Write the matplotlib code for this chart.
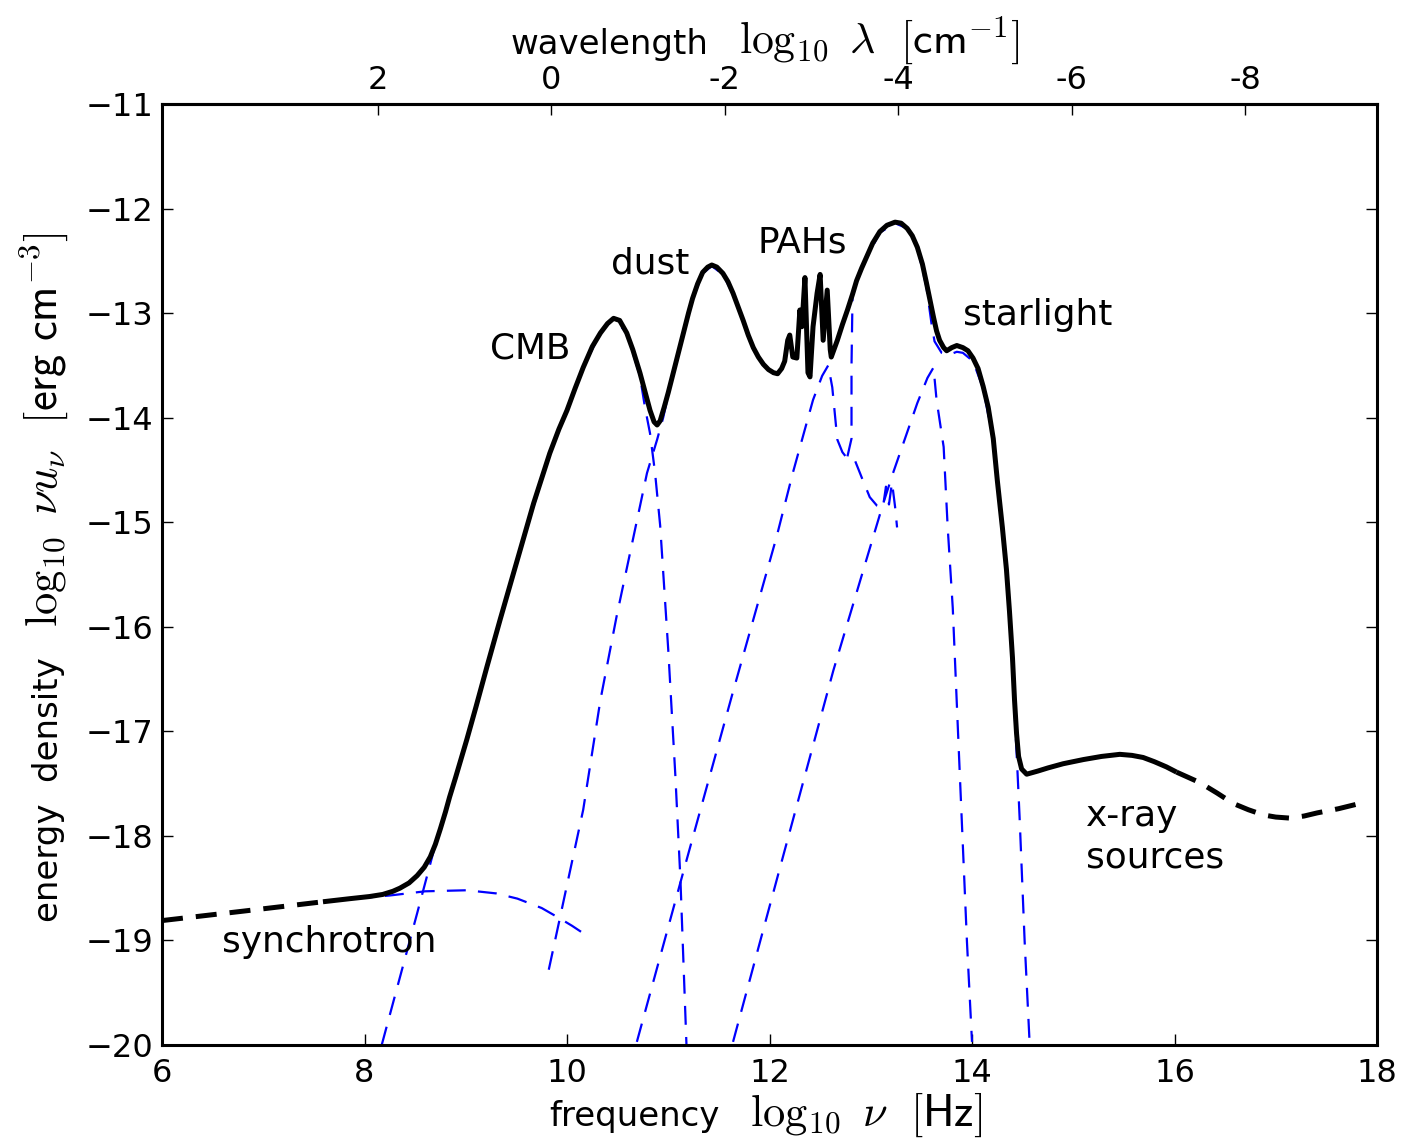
import numpy as np
import matplotlib
matplotlib.use("Agg")
import matplotlib.pyplot as plt

plt.rcParams['mathtext.fontset'] = 'cm'
plt.rcParams['font.family'] = ['DejaVu Sans']

# total energy density (black), log10 nu vs log10 nu*u_nu
tot_x = [6.00, 6.80, 7.59, 7.86, 8.05, 8.18, 8.28, 8.35, 8.44, 8.52, 8.59, 8.65, 8.70,
         8.75, 8.80, 8.84, 8.90, 9.01, 9.10, 9.21, 9.34, 9.51, 9.67, 9.83, 9.92, 10.00,
         10.08, 10.16, 10.25, 10.33, 10.40, 10.46, 10.52, 10.59, 10.65, 10.72, 10.77, 10.82,
         10.86, 10.89, 10.92, 10.96, 11.00, 11.05, 11.10, 11.15, 11.20, 11.24, 11.29, 11.34,
         11.39, 11.43, 11.48, 11.54, 11.59, 11.64, 11.69, 11.74, 11.79, 11.84, 11.89, 11.94,
         11.99, 12.04, 12.08, 12.12, 12.15, 12.18, 12.20, 12.23, 12.27, 12.30, 12.32, 12.35,
         12.38, 12.40, 12.43, 12.47, 12.50, 12.53, 12.57, 12.60, 12.61, 12.67, 12.72, 12.77,
         12.82, 12.86, 12.91, 12.96, 13.02, 13.09, 13.16, 13.24, 13.30, 13.36, 13.41, 13.46,
         13.51, 13.55, 13.59, 13.62, 13.65, 13.68, 13.72, 13.75, 13.80, 13.85, 13.91, 13.96,
         14.01, 14.06, 14.11, 14.16, 14.21, 14.25, 14.30, 14.34, 14.37, 14.40, 14.42, 14.44,
         14.46, 14.49, 14.54, 14.65, 14.75, 14.90, 15.10, 15.28, 15.46, 15.58, 15.69, 15.80,
         15.92, 16.02, 16.25, 16.42, 16.58, 16.73, 16.88, 17.00, 17.14, 17.28, 17.41, 17.62,
         17.83]
tot_y = [-18.81, -18.72, -18.63, -18.60, -18.58, -18.56, -18.53, -18.50, -18.45, -18.38, -18.30, -18.20, -18.08,
         -17.93, -17.77, -17.63, -17.44, -17.08, -16.77, -16.38, -15.93, -15.36, -14.82, -14.34, -14.11, -13.93,
         -13.72, -13.52, -13.32, -13.19, -13.10, -13.05, -13.07, -13.19, -13.35, -13.57, -13.75, -13.93,
         -14.04, -14.07, -14.03, -13.90, -13.76, -13.57, -13.38, -13.19, -13.00, -12.86, -12.72, -12.61,
         -12.56, -12.54, -12.56, -12.62, -12.70, -12.81, -12.94, -13.07, -13.21, -13.33, -13.42, -13.49,
         -13.54, -13.57, -13.58, -13.53, -13.46, -13.26, -13.21, -13.42, -13.43, -12.97, -13.13, -12.66,
         -13.57, -13.61, -13.13, -12.81, -12.63, -13.26, -12.78, -13.35, -13.42, -13.26, -13.11, -12.97,
         -12.82, -12.69, -12.57, -12.46, -12.33, -12.22, -12.16, -12.13, -12.14, -12.19, -12.26, -12.37,
         -12.53, -12.71, -12.90, -13.04, -13.17, -13.26, -13.33, -13.36, -13.33, -13.31, -13.33, -13.36,
         -13.43, -13.53, -13.70, -13.90, -14.20, -14.60, -15.05, -15.45, -15.85, -16.30, -16.70, -17.02,
         -17.24, -17.36, -17.41, -17.38, -17.35, -17.31, -17.27, -17.24, -17.22, -17.23, -17.25, -17.29,
         -17.34, -17.39, -17.49, -17.59, -17.69, -17.75, -17.80, -17.82, -17.83, -17.81, -17.78, -17.74,
         -17.69]
solid_range = (7.59, 16.02)

# individual components (blue dashed)
sync_x = [7.59, 7.90, 8.25, 8.60, 9.01, 9.30, 9.51, 9.75, 9.93, 10.05, 10.19]
sync_y = [-18.63, -18.60, -18.57, -18.53, -18.52, -18.55, -18.60, -18.69, -18.79, -18.86, -18.95]

cmb_x = [8.17, 8.52, 8.72, 8.81, 9.01, 9.21, 9.51, 9.83, 10.16, 10.33, 10.46, 10.59,
         10.72, 10.77, 10.82, 10.87, 10.92, 11.00, 11.07, 11.12, 11.18]
cmb_y = [-20.0, -18.74, -18.01, -17.72, -17.08, -16.38, -15.36, -14.34, -13.52, -13.19, -13.05, -13.19,
         -13.60, -13.90, -14.15, -14.53, -15.03, -16.22, -17.42, -18.41, -20.0]

dust_x = [9.82, 10.16, 10.33, 10.49, 10.65, 10.79, 10.89, 10.95, 11.00, 11.05, 11.15, 11.24, 11.34,
          11.43, 11.54, 11.64, 11.74, 11.84, 11.94, 12.04, 12.10]
dust_y = [-19.28, -17.75, -16.70, -15.90, -15.17, -14.53, -14.21, -14.00, -13.78, -13.58, -13.20, -12.87, -12.62,
          -12.55, -12.63, -12.82, -13.08, -13.34, -13.50, -13.58, -13.58]

pah_x = [10.69, 11.15, 11.64, 12.07, 12.23, 12.43, 12.52, 12.58, 12.62, 12.67, 12.72, 12.76,
         12.84, 12.91, 12.99, 13.06, 13.12, 13.15, 13.18, 13.21, 13.24, 13.26]
pah_y = [-19.97, -18.34, -16.62, -15.14, -14.53, -13.83, -13.60, -13.50, -13.71, -14.21, -14.33, -14.38,
         -14.40, -14.57, -14.76, -14.84, -14.86, -14.66, -14.83, -14.62, -14.85, -15.05]

star1_x = [11.64, 12.13, 12.63, 13.12, 13.22, 13.46, 13.56, 13.62, 13.65, 13.72, 13.76, 13.81,
           13.88, 13.95, 14.00]
star1_y = [-19.97, -18.21, -16.42, -14.83, -14.53, -13.86, -13.62, -13.52, -13.83, -14.28, -15.05, -15.82,
           -17.42, -19.01, -19.97]

star2_x = [12.77, 12.81, 12.81, 12.82, 12.86, 12.96, 13.09, 13.24, 13.36, 13.46, 13.55, 13.60,
           13.63, 13.70, 13.77, 13.85, 13.91, 14.01, 14.11, 14.21, 14.25, 14.30, 14.34, 14.37,
           14.41, 14.45, 14.47, 14.52, 14.57]
star2_y = [-14.37, -14.20, -13.50, -12.83, -12.70, -12.47, -12.23, -12.14, -12.19, -12.37, -12.75, -13.10,
           -13.27, -13.38, -13.40, -13.37, -13.38, -13.46, -13.72, -14.22, -14.62, -15.07, -15.47, -15.87,
           -16.60, -17.40, -17.82, -19.01, -20.0]

components = [(sync_x, sync_y), (cmb_x, cmb_y), (dust_x, dust_y), (pah_x, pah_y),
              (star1_x, star1_y), (star2_x, star2_y)]

labels = [("CMB", 9.24, -13.43), ("dust", 10.43, -12.62), ("PAHs", 11.88, -12.42),
          ("starlight", 13.91, -13.11), ("synchrotron", 6.59, -19.11),
          ("x-ray", 15.13, -17.905), ("sources", 15.13, -18.307)]

wl_ticks = [2, 0, -2, -4, -6, -8]
wl_labels = ['2', '0', '-2', '-4', '-6', '-8']

W, H = 1419, 1140


def nu_to_lam(x):
    return (9.846 - np.asarray(x)) / 0.8563


def lam_to_nu(l):
    return 9.846 - 0.8563 * np.asarray(l)


def place_label(parts, x, y, rotation=0, sep=30):
    # words in sans, math part a bit larger, laid out end to end (x, y in pixels)
    texts = [fig.text(0, 0, s, fontsize=fs, rotation=rotation, rotation_mode='anchor',
                      ha='left', va='baseline') for s, fs in parts]
    fig.canvas.draw()
    r = fig.canvas.get_renderer()
    sizes = []
    for t in texts:
        bb = t.get_window_extent(r)
        sizes.append(bb.height if rotation else bb.width)
    pos = -(sum(sizes) + sep * (len(parts) - 1)) / 2
    for t, s in zip(texts, sizes):
        if rotation:
            t.set_position((x / W, (y + pos) / H))
        else:
            t.set_position(((x + pos) / W, y / H))
        pos += s + sep


fig = plt.figure(figsize=(W / 100, H / 100), dpi=100)
ax = fig.add_axes([162 / W, 95 / H, 1215 / W, 941 / H])

for cx, cy in components:
    ax.plot(cx, cy, color='#0000ff', lw=1.6, ls=(0, (8.5, 5.5)), zorder=2)

tx = np.array(tot_x)
ty = np.array(tot_y)
lo = tx <= solid_range[0]
mid = (tx >= solid_range[0]) & (tx <= solid_range[1])
hi = tx >= solid_range[1]
ax.plot(tx[mid], ty[mid], color='k', lw=3.6, zorder=3, solid_capstyle='butt',
        solid_joinstyle='round')
for m in (lo, hi):
    ax.plot(tx[m], ty[m], color='k', lw=3.6, ls=(0, (4.2, 2.6)), zorder=3)

for txt, x, y in labels:
    ax.text(x, y, txt, fontsize=25.8, ha='left', va='baseline')

ax.set_xlim(6, 18)
ax.set_ylim(-20, -11)
ax.set_xticks(range(6, 19, 2))
ax.set_yticks(range(-20, -10))
ax.tick_params(direction='in', length=8, width=1, labelsize=23, right=True, top=False)
ax.tick_params(axis='x', pad=9)
ax.tick_params(axis='y', pad=6)
for s in ax.spines.values():
    s.set_linewidth(2.2)

sec = ax.secondary_xaxis('top', functions=(nu_to_lam, lam_to_nu))
sec.set_xticks(wl_ticks)
sec.set_xticklabels(wl_labels)
sec.tick_params(direction='in', length=8, width=1, labelsize=23, pad=6)
sec.spines['top'].set_linewidth(2.2)

place_label([('frequency', 24.5), (r'$\log_{10}\ \nu\ \ [\mathsf{Hz}]$', 32)], 766, 14)
place_label([('wavelength', 24.5), (r'$\log_{10}\ \lambda\ \ [\mathsf{cm}^{-1}]$', 31.5)], 765, 1086)
place_label([('energy  density', 24.5), (r'$\log_{10}\ \nu u_\nu\ \ [\mathsf{erg\ cm}^{-3}]$', 32)],
            58, 563, rotation=90)

fig.savefig('out.png', dpi=100)
